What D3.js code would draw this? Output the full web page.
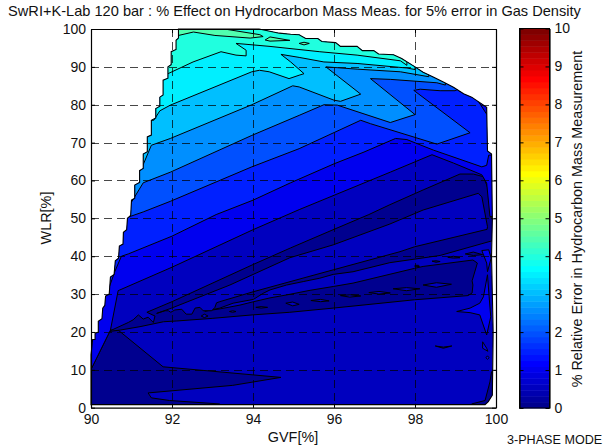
<!DOCTYPE html>
<html><head><meta charset="utf-8">
<script src="https://cdn.jsdelivr.net/npm/d3@7/dist/d3.min.js"></script>
<style>
html,body{margin:0;padding:0;background:#fff;}
svg{display:block;}
text{font-family:"Liberation Sans",Arial,sans-serif;fill:#111;}
</style></head><body>
<svg id="c" width="605" height="448"></svg>
<script>
const titleText="SwRI+K-Lab 120 bar : % Effect on Hydrocarbon Mass Meas. for 5% error in Gas Density";
const xLabel="GVF[%]", yLabel="WLR[%]", barLabel="% Relative Error in Hydrocarbon Mass Measurement", modeLabel="3-PHASE MODE";
const xTicks=[90,92,94,96,98,100];
const yTicks=[0,10,20,30,40,50,60,70,80,90,100];
const barTicks=[0,1,2,3,4,5,6,7,8,9,10];
const xGrid=[92,94,96,98], yGrid=[10,20,30,40,50,60,70,80,90];

// measurement domain outline [GVF, WLR]
const domainOutline=[[90,0.8],[90,14],[90.04,18],[90.1,18],[90.1,19.6],[90.18,20],[90.18,22.8],[90.27,23.5],[90.29,26.3],[90.34,27],[90.36,29.5],[90.45,30],[90.48,34.5],[90.57,35.2],[90.6,38.8],[90.68,39.5],[90.7,42.7],[90.79,43.2],[90.8,46.3],[90.88,47],[90.9,50],[90.98,50.8],[91,54.8],[91.08,55.3],[91.08,58.8],[91.2,59.5],[91.2,62.6],[91.29,63.2],[91.29,67],[91.39,67.6],[91.39,71.5],[91.49,72],[91.49,75.9],[91.6,76.5],[91.6,79],[91.7,79.6],[91.7,82],[91.78,82.6],[91.78,86.5],[91.9,87],[91.9,90],[91.98,90.6],[91.98,94],[92.1,94.6],[92.1,97],[92.16,97.6],[92.16,100],[94.15,100],[94.65,98.9],[94.93,98.6],[95.14,98.5],[95.3,97.5],[95.6,97.5],[95.7,96.7],[96.04,96.4],[96.16,95.4],[96.57,95.4],[96.7,94.3],[96.98,94.3],[97.1,93.4],[97.47,93.2],[97.67,92.2],[98,90],[98.2,88.6],[98.45,87.3],[98.7,86],[98.95,84.6],[99.2,82.9],[99.4,82],[99.77,79.3],[99.79,67.8],[99.89,67],[99.91,49.8],[99.89,40],[99.93,20],[99.91,3.3],[99.81,1.6],[99.73,0.8]];

// contour regions, lowest level first: [level, points]
const lowTriangle=[[89.5,0],[89.5,10.1],[90,10.1],[90.48,20.5],[90.67,20.5],[91.78,10.8],[94.69,8],[93.5,5.9],[91.41,3.9],[91.49,2.6],[91.94,1.9],[93.17,1],[93.3,0]];
const lowCorner=[[100.5,0],[100.5,9.5],[99.89,9.5],[99.85,6.8],[99.73,1.9],[99.4,1],[99.36,0]];
const lowBands=[[90.43,20.1],[90.92,22.5],[91.04,23.2],[91.17,24.5],[91.29,23.4],[91.41,23.9],[91.54,22.5],[91.58,24.2],[91.38,25.2],[92,28],[94,37.8],[94.93,42.2],[96,47.1],[96.86,51],[97.38,53.6],[98.2,57.5],[99.11,61.7],[99.44,61.7],[99.69,61],[99.85,56.6],[99.88,50],[100.5,50],[100.5,44],[99.88,44],[98.62,40.2],[97.38,38.3],[96.47,35.9],[95.98,35.2],[95.65,34.2],[95.24,33.3],[94.83,32.4],[94.42,31.1],[94.25,30.2],[94.01,28.6],[93.51,27.6],[93.18,26.3],[92.81,25.5],[93.19,26.1],[93.68,27.1],[93.98,27.9],[94.42,29],[94.84,29.8],[95.41,31],[95.98,32],[96.47,32.9],[97.99,36.8],[98.2,37.3],[99.43,39],[99.54,38.2],[99.41,33.5],[99.43,32.4],[99.41,30.3],[99.31,29.6],[97.99,28.5],[95.98,26.3],[94.91,25.2],[93.98,24.5],[93.01,23.6],[92.12,22.9],[91.79,22.7],[91.21,21.4],[90.72,20.5]];
const midWedge=[[99.65,55.7],[99.56,56.6],[98.2,52.2],[97.38,48.5],[95.98,43],[94.91,39.6],[93.43,32.4],[91.99,26.3],[91.62,24.9],[91.83,25.6],[91.91,25.6],[91.97,25.2],[92.07,25.8],[92.24,26],[92.35,24.7],[92.49,24.7],[92.57,26.3],[92.69,26.5],[92.77,25.6],[92.98,25.6],[93.06,26.5],[93.1,27.7],[93.18,28],[94,30.6],[95.16,34],[95.98,36.4],[97.63,41.2],[97.99,42.5],[99.78,47.1],[99.79,47.8]];
const line05=[[89.5,10.1],[90,10.1],[90.48,20.5],[90.67,30.9],[92,37.1],[94,47],[95.14,52.3],[97.39,62.2],[98.42,66.8],[98.95,64.6],[99.65,61.5],[99.77,59.3],[99.85,50.5],[100.5,50.5],[100.5,101],[89.5,101]];
const line10=[[90,30.3],[90.4,30.3],[90.59,36],[90.75,40],[90.92,40.6],[92,45.3],[93.09,51],[94,54.8],[94.93,59.4],[96,64.4],[96.74,67.5],[97.52,71.1],[97.8,70.8],[98.46,68],[99.65,63.6],[99.77,64],[99.82,66.7],[100.5,66.7],[100.5,101],[89.5,101]];
const line15=[[90.7,50],[90.94,50.4],[91.29,51.7],[91.96,54.5],[93.97,63.6],[95.14,68.4],[96.66,75.9],[96.9,75],[98.54,69.6],[99.36,72.6],[97.97,83.8],[98.13,84.1],[98.62,83.7],[98.99,83.7],[99.1,84.3],[99.1,101],[89.5,101]];
const line20=[[90.7,54.3],[91,54.3],[91.29,59.4],[91.96,62.2],[93.97,71.9],[95.14,77.2],[95.75,80],[96.08,79.9],[97.39,75.3],[98,77.4],[96.9,86.9],[97.39,86.7],[98.54,85.8],[98.75,85.2],[98.75,101],[89.5,101]];
const line25=[[90.9,62.7],[91.23,62.7],[91.49,69.3],[91.96,71.1],[93.97,80],[94.98,85],[95.14,84.7],[96,81.2],[96.16,80.9],[96.66,82.8],[95.8,90],[96.57,89.4],[97.64,88.7],[98.34,87.4],[98.34,101],[89.5,101]];
const line30=[[91.2,75.9],[91.55,75.9],[91.7,78.4],[91.96,79.9],[93.97,88.7],[94.16,89.1],[94.4,88.7],[94.89,86.9],[95.14,87.8],[95.26,88.2],[94.93,91.3],[94.69,93.3],[95.14,92.5],[95.75,91.3],[96.57,90.9],[97.8,89.7],[98,89.3],[98,101],[89.5,101]];
const line35=[[91.5,88.2],[91.9,88.2],[92.52,91.3],[93.21,94],[93.58,93.1],[93.83,92.9],[93.83,94.4],[93.58,96.2],[94,95.8],[94.42,95.4],[95.65,94],[96.57,93.1],[97.64,91.6],[97.8,90.4],[97.8,101],[89.5,101]];
const line40=[[92,98.3],[92.16,98.3],[92.53,99.2],[93.06,98.3],[93.93,97.6],[94.25,98],[94.17,98.5],[93.35,99.9],[93.35,101],[92,101]];
const sliver40=[[94.3,97.1],[94.42,97.9],[94.91,97],[94.42,96.8]];
const diamond40=[[95.14,96.2],[95.26,96.5],[95.39,96.2],[95.26,95.8]];

// small closed islands
const brightSpike=[[99.03,25.4],[99.36,26.3],[99.6,27.6],[99.69,29.3],[99.79,35.1],[99.83,29.3],[99.87,24],[99.77,19.2],[99.6,24.5],[99.36,25.1]];
const brightFlag=[[99.65,41.5],[99.82,41.7],[99.88,39.5],[99.79,35.9],[99.77,38.2]];
const brightDrop=[[99.67,17.4],[99.77,15.7],[99.8,14.9],[99.67,15.7]];
const brightDot=[[99.75,13.2],[99.79,13.7],[99.83,13.2],[99.79,12.8]];
const midDash=[[98.5,16.3],[98.7,16],[98.91,16.3],[98.7,15.7]];
const midLenses=[
 [[98.2,32.4],[98.53,33],[98.9,32.6],[98.53,31.8]],
 [[97.46,31.4],[97.79,31.7],[98.12,31.4],[97.79,30.9]],
 [[96.86,30.4],[97.11,30.7],[97.39,30.3],[97.11,30]],
 [[96.16,29.6],[96.39,29.8],[96.66,29.5],[96.39,29.2]],
 [[95.43,28.3],[95.67,28.6],[95.88,28.2],[95.67,28]],
 [[94.81,27.6],[94.98,27.9],[95.14,27.3],[94.98,26.9]],
 [[94.07,26.5],[94.2,26.7],[94.36,26.5],[94.2,26.3]],
 [[93.42,25.4],[93.5,25.6],[93.58,25.4],[93.5,25.2]],
 [[92.72,24.2],[92.8,24.7],[92.89,24.2],[92.8,23.8]]];
const lowLenses=[
 [[99.24,40.6],[99.44,41.1],[99.67,40.4],[99.44,40.2]],
 [[98.81,39.7],[98.95,40],[99.11,39.6],[98.95,39.5]],
 [[98.42,38.7],[98.52,38.8],[98.62,38.6],[98.52,38.4]],
 [[98,37.6],[98.09,37.6],[98.11,37.3],[98,37.2]]];
const cornerPatch=[[99.1,83.5],[99.4,83.6],[99.77,77.5],[100.5,77.5],[100.5,90],[99.1,90]];

const regions=[
 [0,lowTriangle],[0,lowCorner],[0,lowBands],[0.5,midWedge],
 ...midLenses.map(p=>[0.5,p]),...lowLenses.map(p=>[0,p]),
 [1,line05],[1.5,line10],[2,line15],[2.5,line20],[3,line25],[3.5,line30],[4,line35],[4.5,line40],[4.5,sliver40],[4.5,diamond40],
 [1,cornerPatch],[1,brightSpike],[1,brightFlag],[1,brightDrop],[1,brightDot],[0,midDash]
];

const svg=d3.select("#c");
const x=d3.scaleLinear().domain([90,100]).range([91,496]);
const y=d3.scaleLinear().domain([0,100]).range([407.7,29]);
const cb=d3.scaleLinear().domain([0,10]).range([408,28.5]);
const cbX=[519.5,549.5];

function jet(v){
  const i=Math.min(64,Math.floor(v/10*64)+1);
  const t=i/16;
  const f=(a)=>Math.max(0,Math.min(1,a));
  const r=f(Math.min(t*1-1.5,4.5-t)), g=f(Math.min(t-0.5,3.5-t)), b=f(Math.min(t+0.5,2.5-t));
  return d3.rgb(r*255,g*255,b*255).formatHex();
}
const line=d3.line().x(d=>x(d[0])).y(d=>y(d[1])).curve(d3.curveLinearClosed);

svg.append("defs").append("clipPath").attr("id","dom").append("path").attr("d",line(domainOutline));

const fillG=svg.append("g").attr("clip-path","url(#dom)");
fillG.append("path").attr("d",line(domainOutline)).attr("fill",jet(0.5));
fillG.selectAll("path.r").data(regions).join("path").attr("class","r")
  .attr("d",d=>line(d[1])).attr("fill",d=>jet(d[0]))
  .attr("stroke","#000").attr("stroke-width",1).attr("stroke-linejoin","round");
svg.append("path").attr("d",line(domainOutline)).attr("fill","none").attr("stroke","#000").attr("stroke-width",1.1);

// grid
const grid=svg.append("g").attr("stroke","#000").attr("stroke-opacity",0.72).attr("stroke-width",1).attr("stroke-dasharray","8,5");
grid.selectAll("line.v").data(xGrid).join("line").attr("class","v")
  .attr("x1",d=>Math.round(x(d))+0.5).attr("x2",d=>Math.round(x(d))+0.5).attr("y1",y(100)).attr("y2",y(0));
grid.selectAll("line.h").data(yGrid).join("line").attr("class","h")
  .attr("y1",d=>Math.round(y(d))+0.5).attr("y2",d=>Math.round(y(d))+0.5).attr("x1",x(90)).attr("x2",x(100));

// axes
function styleAxis(g){
  g.selectAll("path").attr("stroke","#000").attr("stroke-width",1.2);
  g.selectAll("line").attr("stroke","#000");
  g.selectAll("text").attr("font-size",14).style("font-family",'"Liberation Sans",Arial,sans-serif').attr("fill","#111");
}
svg.append("g").attr("transform",`translate(0,${y(0)})`).call(d3.axisBottom(x).tickValues(xTicks).tickFormat(d3.format("d")).tickSize(-4).tickSizeOuter(0).tickPadding(6)).call(styleAxis);
svg.append("g").attr("transform",`translate(0,${y(100)})`).call(d3.axisTop(x).tickValues(xTicks).tickFormat("").tickSize(-4).tickSizeOuter(0)).call(styleAxis);
svg.append("g").attr("transform",`translate(${x(90)},0)`).call(d3.axisLeft(y).tickValues(yTicks).tickFormat(d3.format("d")).tickSize(-4).tickSizeOuter(0).tickPadding(5)).call(styleAxis);
svg.append("g").attr("transform",`translate(${x(100)},0)`).call(d3.axisRight(y).tickValues(yTicks).tickFormat("").tickSize(-4).tickSizeOuter(0)).call(styleAxis);

// colour bar
const bands=d3.range(64);
svg.append("g").selectAll("rect").data(bands).join("rect")
  .attr("x",cbX[0]).attr("width",cbX[1]-cbX[0])
  .attr("y",d=>cb((d+1)/6.4)).attr("height",d=>cb(d/6.4)-cb((d+1)/6.4)+0.5)
  .attr("fill",d=>jet((d+0.5)/6.4));
svg.append("g").attr("transform",`translate(${cbX[1]},0)`).call(d3.axisRight(cb).tickValues(barTicks).tickFormat(d3.format("d")).tickSize(-4).tickSizeOuter(0).tickPadding(5)).call(styleAxis);
svg.append("g").attr("transform",`translate(${cbX[0]},0)`).call(d3.axisLeft(cb).tickValues(barTicks).tickFormat("").tickSize(-4).tickSizeOuter(0)).call(styleAxis);
svg.append("rect").attr("x",cbX[0]).attr("y",cb(10)).attr("width",cbX[1]-cbX[0]).attr("height",cb(0)-cb(10)).attr("fill","none").attr("stroke","#000").attr("stroke-width",1);

// text
svg.append("text").attr("x",294.5).attr("y",16).attr("text-anchor","middle").attr("font-size",14.6).text(titleText);
svg.append("text").attr("x",293).attr("y",442).attr("text-anchor","middle").attr("font-size",14.4).text(xLabel);
svg.append("text").attr("transform","translate(51,218) rotate(-90)").attr("text-anchor","middle").attr("font-size",14.4).text(yLabel);
svg.append("text").attr("transform","translate(582,219) rotate(-90)").attr("text-anchor","middle").attr("font-size",14.4).text(barLabel);
svg.append("text").attr("x",507).attr("y",444).attr("font-size",12.6).text(modeLabel);
</script>
</body></html>
